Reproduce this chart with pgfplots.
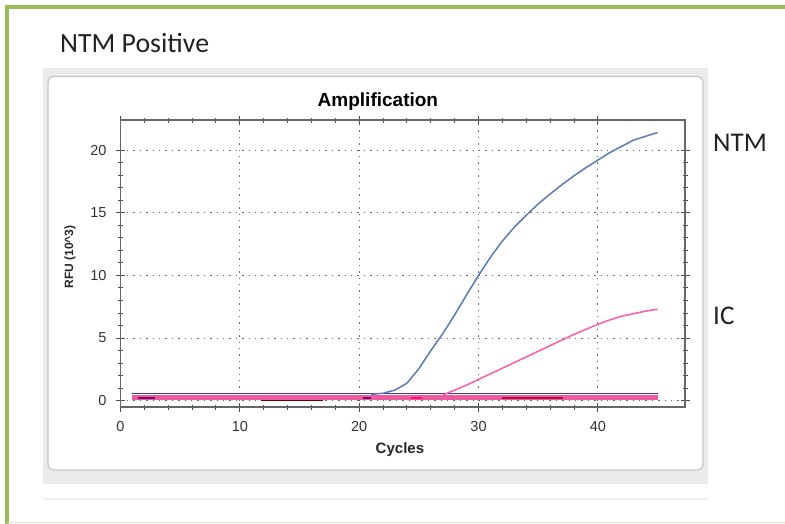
\documentclass[border=0pt]{standalone}
\usepackage{pgfplots}
\pgfplotsset{compat=1.18}
\usepackage{fontspec}
\setmainfont{Liberation Sans}
\newfontfamily\calfont{Carlito}

\definecolor{framegreen}{HTML}{9BBB59}
\definecolor{panelgray}{HTML}{EBEBEB}
\definecolor{ntmblue}{HTML}{5B7BB5}
\definecolor{icpink}{HTML}{FF5CA8}
\definecolor{bandpink}{HTML}{EE5AA0}
\definecolor{bandblue}{HTML}{3C3C9C}
\definecolor{darkred}{HTML}{B01040}
\definecolor{bandpurple}{HTML}{700A70}
\definecolor{hotpink}{HTML}{FF0F6F}
\definecolor{txt}{HTML}{222222}

\begin{document}
\begin{tikzpicture}
% page = 785 x 523 px, 1px = 1pt, y downwards as negative
\useasboundingbox (0pt,0pt) rectangle (785pt,-523pt);
\clip (0pt,0pt) rectangle (785pt,-523pt);
\fill[white] (0pt,0pt) rectangle (785pt,-523pt);
\draw[framegreen, line width=4pt] (7pt,-7pt) rectangle (800pt,-530pt);
\draw[framegreen!35, line width=1.5pt] (7pt,-522.5pt) -- (785pt,-522.5pt);

\fill[panelgray] (43pt,-67.5pt) rectangle (708pt,-483.5pt);
\draw[fill=white, draw=gray!45, line width=1.2pt, rounded corners=6pt]
  (48pt,-76.5pt) rectangle (703pt,-470pt);
\draw[gray!12, line width=2pt] (43pt,-498.5pt) -- (708pt,-498.5pt);

\node[anchor=base west, inner sep=0pt, text=txt,
  font=\calfont\fontsize{27.8}{30}\selectfont] at (60pt,-52.7pt) {NTM Positive};
\node[anchor=base west, inner sep=0pt, text=txt,
  font=\calfont\fontsize{27}{30}\selectfont] at (713pt,-151.7pt) {NTM};
\node[anchor=base west, inner sep=0pt, text=txt,
  font=\calfont\fontsize{27}{30}\selectfont] at (713pt,-324pt) {IC};

\begin{axis}[
    scale only axis,
    width=564.5pt, height=287pt,
    at={(120.5pt,-407pt)}, anchor=south west,
    xmin=0, xmax=47.3,
    ymin=-0.5, ymax=22.4,
    xtick={0,10,20,30,40},
    ytick={0,5,10,15,20},
    minor x tick num=4,
    minor y tick num=4,
    grid=major,
    grid style={black!60, line width=1.1pt, dash pattern=on 1.4pt off 5pt},
    tick align=center,
    major tick length=9pt,
    minor tick length=5pt,
    tick style={black!70, line width=1pt},
    axis line style={black!60, line width=1.6pt},
    ticklabel style={font=\fontsize{14.5}{15}\selectfont, text=black!80},
    xticklabel style={yshift=-6pt},
    yticklabel style={xshift=-6pt},
    /pgf/number format/assume math mode=true,
    title={\bfseries Amplification},
    title style={at={(axis description cs:0.456,1.042)}, anchor=center,
      font=\fontsize{19}{20}\selectfont, text=black},
    xlabel={\bfseries Cycles},
    xlabel style={at={(axis description cs:0.495,-0.15)}, anchor=center,
      font=\fontsize{15}{16}\selectfont, text=black!85},
    ylabel={\bfseries RFU (10\^{}3)},
    ylabel style={at={(axis description cs:-0.0895,0.523)}, anchor=center,
      rotate=0, font=\fontsize{12}{13}\selectfont, text=black!85},
]

% flat baselines of the negative wells
\addplot[bandpink, line width=5pt] coordinates {(1,0.22)(45,0.22)};
\addplot[bandblue, line width=1.2pt] coordinates {(1,0.56)(45,0.56)};
\addplot[darkred, line width=2.5pt] coordinates {(32,0.2)(37.1,0.2)};
\addplot[bandpurple, line width=2.5pt] coordinates {(1.5,0.2)(2.9,0.2)};
\addplot[bandpurple, line width=2.5pt] coordinates {(20.3,0.2)(21,0.2)};
\addplot[hotpink, line width=2.5pt] coordinates {(24.3,0.2)(25.3,0.2)};
\addplot[black!60!red, line width=1pt] coordinates {(11.8,0.0)(17,0.0)};

% NTM
\addplot[ntmblue, line width=1.5pt] coordinates {
  (21,0.5)(22,0.6)(23,0.85)(24,1.4)(25,2.55)(26,4.0)(27,5.35)(28,6.85)
  (29,8.45)(30,10.0)(31,11.45)(32,12.75)(33,13.85)(34,14.8)(35,15.7)
  (36,16.5)(37,17.25)(38,17.95)(39,18.6)(40,19.2)(41,19.8)(42,20.3)
  (43,20.8)(44,21.1)(45,21.4)
};

% IC
\addplot[icpink, line width=1.5pt] coordinates {
  (27,0.45)(28,0.85)(29,1.25)(30,1.7)(31,2.15)(32,2.6)(33,3.05)
  (34,3.5)(35,3.95)(36,4.4)(37,4.85)(38,5.3)(39,5.7)(40,6.1)
  (41,6.45)(42,6.75)(43,6.95)(44,7.15)(45,7.3)
};

\end{axis}
\end{tikzpicture}
\end{document}
